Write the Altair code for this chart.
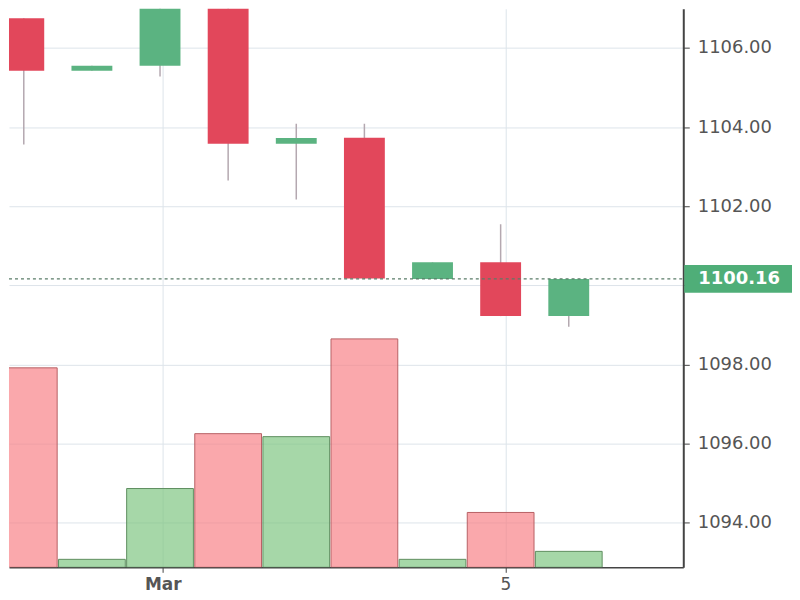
import altair as alt
import pandas as pd

# Candle data
idx   = [0, 1, 2, 3, 4, 5, 6, 7, 8]
open_ = [1106.75, 1105.42, 1105.55, 1108.20, 1103.58, 1103.73, 1100.16, 1100.58, 1099.22]
close = [1105.42, 1105.55, 1107.60, 1103.58, 1103.72, 1100.17, 1100.58, 1099.22, 1100.16]
high  = [1106.75, 1105.55, 1108.00, 1108.40, 1104.08, 1104.08, 1100.58, 1101.54, 1100.16]
low   = [1103.56, 1105.42, 1105.28, 1102.65, 1102.17, 1100.16, 1100.16, 1099.22, 1098.95]
volume = [2000, 80, 790, 1340, 1310, 2290, 80, 550, 160]

last_price = 1100.16
tick_pos = [2.04, 7.07]
tick_lab = ["Mar", "5"]
y_ticks = [1094, 1096, 1098, 1100, 1102, 1104, 1106]

df = pd.DataFrame({"i": idx, "open": open_, "close": close, "high": high,
                   "low": low, "vol": volume})
df["dir"] = ["up" if c >= o else "down" for o, c in zip(open_, close)]

W, H = 676, 560
FONT = "DejaVu Sans"
xdom = [-0.217, 9.681]
ydom = [1092.87, 1106.99]

xs = alt.Scale(domain=xdom, nice=False, zero=False)
ys = alt.Scale(domain=ydom, nice=False, zero=False)

label_expr = f"datum.value < 5 ? '{tick_lab[0]}' : '{tick_lab[1]}'"
x_axis = alt.Axis(
    values=tick_pos, labelExpr=label_expr, title=None, grid=True,
    gridColor="#dde4ea", gridWidth=1, domainColor="#444", domainWidth=1.5,
    tickColor="#444", tickSize=5, labelFont=FONT, labelFontSize=17,
    labelColor="#555", labelPadding=4,
    labelFontWeight={"condition": {"test": "datum.value < 5", "value": "bold"}, "value": "normal"})

base = alt.Chart(df)

vol = base.transform_calculate(
    x1="datum.i - 0.49", x2="datum.i + 0.49"
).mark_rect(strokeWidth=1, clip=True).encode(
    x=alt.X("x1:Q", scale=xs, axis=x_axis),
    x2="x2:Q",
    y=alt.Y("vol:Q", scale=alt.Scale(domain=[0, 5600], nice=False), axis=None),
    y2=alt.datum(0),
    fill=alt.Fill("dir:N", scale=alt.Scale(domain=["up", "down"], range=["#7cc47f", "#f77f84"]), legend=None),
    stroke=alt.Stroke("dir:N", scale=alt.Scale(domain=["up", "down"], range=["#5f8f60", "#b86064"]), legend=None),
    fillOpacity=alt.value(0.68),
)

wick = base.mark_rule(strokeWidth=1.5, color="#b4a8b0", clip=True).encode(
    x=alt.X("i:Q", scale=xs),
    y=alt.Y("low:Q", scale=ys, axis=alt.Axis(
        orient="right", values=y_ticks, title=None, grid=True,
        labelExpr="datum.value == 1100 ? '' : format(datum.value, '.2f')",
        gridColor="#dde4ea", gridWidth=1, domainColor="#444", domainWidth=2,
        tickColor="#444", tickSize=6, labelFont=FONT, labelFontSize=18,
        labelColor="#555", labelPadding=8)),
    y2="high:Q",
)

body = base.transform_calculate(
    b1="datum.i - 0.3", b2="datum.i + 0.3"
).mark_rect(clip=True).encode(
    x=alt.X("b1:Q", scale=xs),
    x2="b2:Q",
    y=alt.Y("open:Q", scale=ys),
    y2="close:Q",
    fill=alt.Fill("dir:N", scale=alt.Scale(domain=["up", "down"], range=["#5bb381", "#e2475b"]), legend=None),
)

pdf = pd.DataFrame({"p": [last_price], "lab": [f"{last_price:.2f}"]})
pdf["p1"] = pdf["p"] - 0.35
pdf["p2"] = pdf["p"] + 0.35

pline = alt.Chart(pdf).mark_rule(strokeDash=[3, 3], strokeWidth=1.3, color="#5a7c68").encode(
    y=alt.Y("p:Q", scale=ys), x=alt.value(0), x2=alt.value(W))

pbox = alt.Chart(pdf).mark_rect(color="#4fae78", clip=False).encode(
    y=alt.Y("p1:Q", scale=ys), y2="p2:Q", x=alt.value(W + 1), x2=alt.value(W + 109))

ptext = alt.Chart(pdf).mark_text(font=FONT, fontSize=18, fontWeight="bold",
                                 color="white", align="center", baseline="middle", clip=False).encode(
    y=alt.Y("p:Q", scale=ys), x=alt.value(W + 56), text="lab:N")

price = alt.layer(wick, body, pline, pbox, ptext)

chart = alt.layer(vol, price).resolve_scale(
    y="independent", fill="independent", stroke="independent"
).properties(
    width=W, height=H, padding=0
).configure(background="white").configure_view(stroke=None)

chart.save("out.html", embed_options={"renderer": "svg", "actions": False})
